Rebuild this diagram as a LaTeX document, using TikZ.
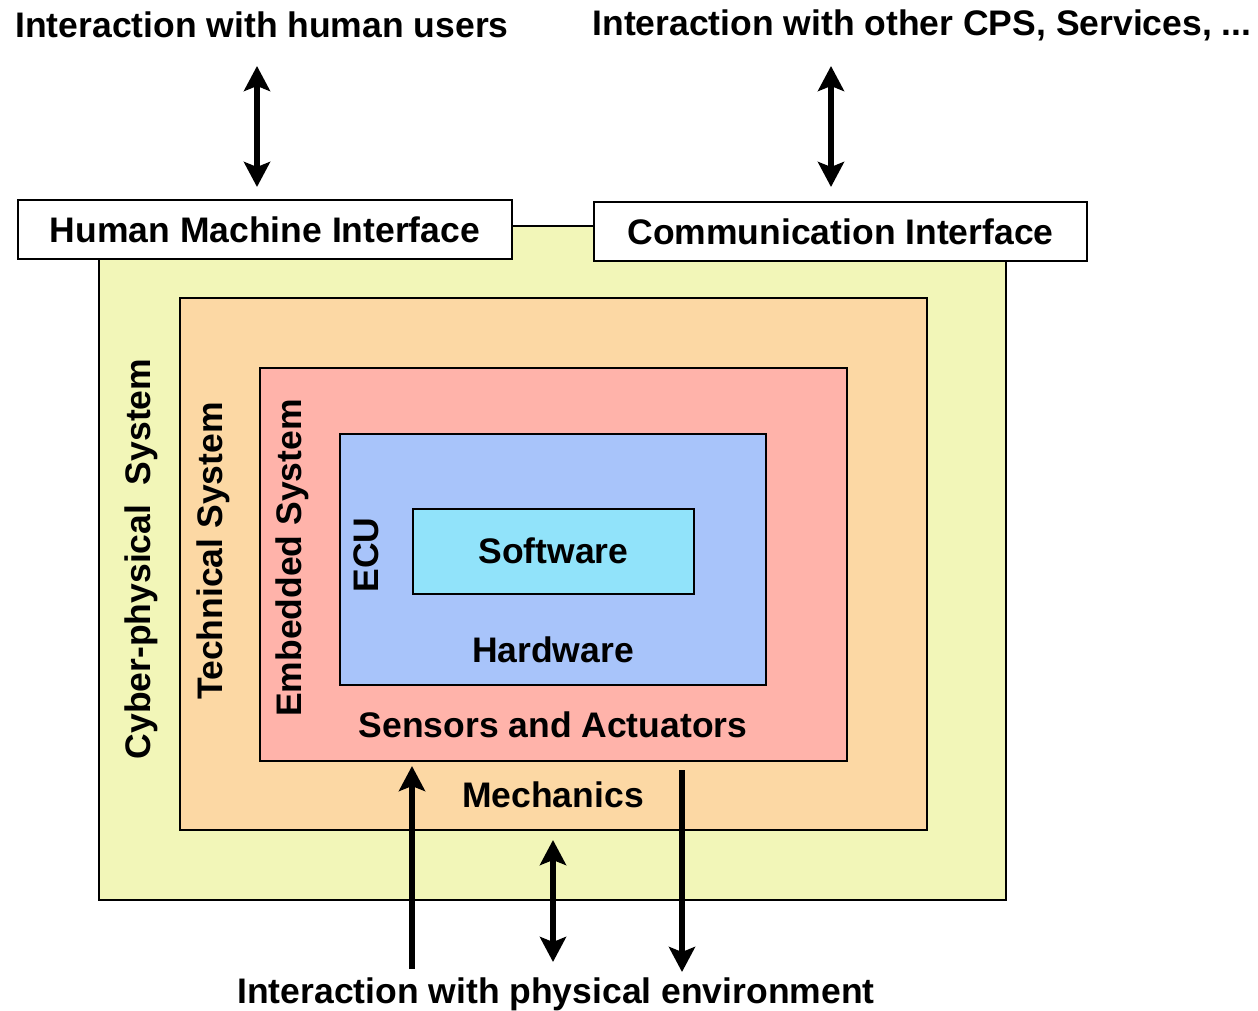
\documentclass[tikz,border=0pt]{standalone}
\usepackage{fontspec}
\setmainfont{Liberation Sans}
\usetikzlibrary{arrows.meta}
\definecolor{cpsfill}{RGB}{242,246,184}
\definecolor{techfill}{RGB}{252,216,164}
\definecolor{embfill}{RGB}{255,179,170}
\definecolor{ecufill}{RGB}{168,196,250}
\definecolor{swfill}{RGB}{145,227,250}
\tikzset{
  lbl/.style={font=\fontsize{35.5}{40}\selectfont\bfseries, inner sep=0pt},
  layer/.style={draw=black, line width=1.3pt, inner sep=0pt, anchor=center},
  iface/.style={draw=black, line width=1.6pt, fill=white, inner sep=0pt, anchor=center},
  flow/.style={line width=5.5pt, -{Stealth[length=25pt,width=26pt,inset=5pt]}},
  bothflow/.style={line width=5.5pt, {Stealth[length=25pt,width=26pt,inset=5pt]}-{Stealth[length=25pt,width=26pt,inset=5pt]}}
}
\begin{document}
\begin{tikzpicture}[x=1pt,y=-1pt]
\useasboundingbox (0,0) rectangle (1258,1011);

% nested layers
\node[layer, fill=cpsfill, minimum width=907pt, minimum height=674pt] (cps) at (552.5,563) {};
\node[layer, fill=techfill, minimum width=747pt, minimum height=532pt] (tech) at (553.5,564) {};
\node[layer, fill=embfill, minimum width=587pt, minimum height=393pt] (emb) at (553.5,564.5) {};
\node[layer, fill=ecufill, minimum width=426pt, minimum height=251pt] (ecu) at (553,559.5) {};
\node[layer, fill=swfill, minimum width=281pt, minimum height=85pt] (sw) at (553.5,551.5) {};

% interfaces
\node[iface, minimum width=494pt, minimum height=59pt] (hmi) at (265,229.5) {};
\node[lbl] at (hmi.center) {Human Machine Interface};
\node[iface, minimum width=493pt, minimum height=59pt] (comm) at (840.5,231.5) {};
\node[lbl] at (comm.center) {Communication Interface};

% layer labels
\node[lbl] (swlbl) at (553.5,551) {Software};
\node[lbl] (hwlbl) at (553,650) {Hardware};
\node[lbl] (salbl) at (553,725) {Sensors and Actuators};
\node[lbl] (mechlbl) at (553,795) {Mechanics};
\node[lbl, rotate=90] (cpslbl) at (141,559) {Cyber-physical\ \ System};
\node[lbl, rotate=90] (techlbl) at (213,551) {Technical System};
\node[lbl, rotate=90] (emblbl) at (292,558) {Embedded System};
\node[lbl, rotate=90] (eculbl) at (366,555) {ECU};

% outside world
\node[lbl] (human) at (262,25) {Interaction with human users};
\node[lbl] (other) at (922,25) {Interaction with other CPS, Services, ...};
\node[lbl] (phys) at (556,994) {Interaction with physical environment};

% interaction arrows
\coordinate (hA) at (257,66);
\coordinate (hB) at (257,187);
\coordinate (oA) at (831,66);
\coordinate (oB) at (831,187);
\coordinate (inA) at (412,969);
\coordinate (inB) at (412,766);
\coordinate (outA) at (682,770);
\coordinate (outB) at (682,972);
\coordinate (mA) at (553,840);
\coordinate (mB) at (553,962);

\draw[bothflow] (hA) -- (hB);
\draw[bothflow] (oA) -- (oB);
\draw[flow] (inA) -- (inB);
\draw[flow] (outA) -- (outB);
\draw[bothflow] (mA) -- (mB);
\end{tikzpicture}
\end{document}
